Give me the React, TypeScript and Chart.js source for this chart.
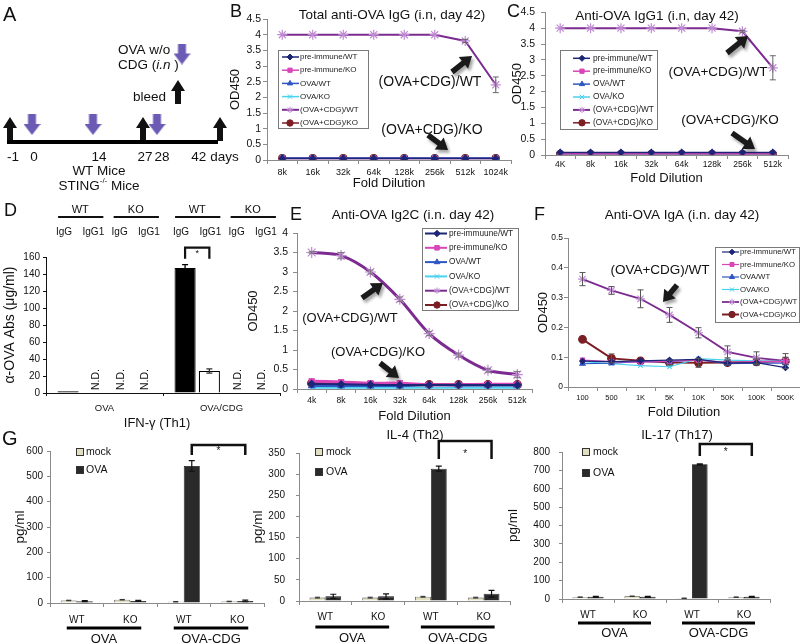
import React, { useEffect, useRef } from 'react';
import { Chart, registerables } from 'chart.js';
import { drawPoint } from 'chart.js/helpers';

Chart.register(...registerables);

const FONT = '"Liberation Sans", Arial, Helvetica, sans-serif';
Chart.defaults.font.family = FONT;
Chart.defaults.color = '#111';

// ================= DATA =================
// A: immunization schedule
const scheduleLabels = ['-1', '0', '14', '27', '28', '42 days'];
const scheduleEvent = ['bleed', 'ova', 'ova', 'bleed', 'ova', 'bleed'];

// shared series
const seriesLabels = ['pre-immune/WT', 'pre-immune/KO', 'OVA/WT', 'OVA/KO', '(OVA+CDG)/WT', '(OVA+CDG)/KO'];
const seriesLabelsE = ['pre-immuune/WT', 'pre-immune/KO', 'OVA/WT', 'OVA/KO', '(OVA+CDG)/WT', '(OVA+CDG)/KO'];

// B: Total anti-OVA IgG
const bDilution = ['8k', '16k', '32k', '64k', '128k', '256k', '512k', '1024k'];
const bPreWT = [0.05, 0.05, 0.05, 0.05, 0.05, 0.05, 0.05, 0.05];
const bPreKO = [0.05, 0.05, 0.05, 0.05, 0.05, 0.05, 0.05, 0.05];
const bOvaWT = [0.06, 0.06, 0.06, 0.06, 0.06, 0.06, 0.06, 0.06];
const bOvaKO = [0.06, 0.06, 0.06, 0.06, 0.06, 0.06, 0.06, 0.06];
const bCdgWT = [4, 4, 4, 4, 4, 4, 3.8, 2.4];
const bCdgWTErr = [0, 0, 0, 0, 0, 0, 0.05, 0.25];
const bCdgKO = [0.06, 0.06, 0.06, 0.06, 0.06, 0.06, 0.06, 0.06];

// C: Anti-OVA IgG1
const cDilution = ['4K', '8k', '16k', '32k', '64k', '128k', '256k', '512k'];
const cPreWT = [0.08, 0.08, 0.08, 0.08, 0.08, 0.08, 0.08, 0.08];
const cPreKO = [0.04, 0.04, 0.04, 0.04, 0.04, 0.04, 0.04, 0.04];
const cOvaWT = [0.07, 0.07, 0.07, 0.07, 0.07, 0.07, 0.07, 0.07];
const cOvaKO = [0.04, 0.04, 0.04, 0.04, 0.04, 0.04, 0.04, 0.04];
const cCdgWT = [4, 4, 4, 4, 4, 4, 3.9, 2.75];
const cCdgWTErr = [0, 0, 0, 0, 0, 0, 0.03, 0.38];
const cCdgKO = [0.03, 0.03, 0.03, 0.03, 0.03, 0.03, 0.03, 0.03];

// D: alpha-OVA Abs (ug/ml)
const dGroups = ['OVA', 'OVA/CDG'];
const dWTIgG = [2, 147];
const dWTIgGErr = [0, 4];
const dWTIgG1 = [null, 26];
const dWTIgG1Err = [0, 2.5];
const dKOIgG = [null, null];
const dKOIgG1 = [null, null];

// E: Anti-OVA Ig2C
const eDilution = ['4k', '8k', '16k', '32k', '64k', '128k', '256k', '512k'];
const ePreWT = [0.13, 0.12, 0.11, 0.1, 0.1, 0.1, 0.1, 0.1];
const ePreKO = [0.2, 0.18, 0.15, 0.15, 0.11, 0.11, 0.12, 0.12];
const eOvaWT = [0.08, 0.08, 0.08, 0.08, 0.1, 0.09, 0.09, 0.09];
const eOvaKO = [0.03, 0.03, 0.03, 0.03, 0.03, 0.03, 0.03, 0.03];
const eCdgWT = [3.5, 3.42, 3.0, 2.3, 1.42, 0.87, 0.48, 0.37];
const eCdgWTErr = [0.02, 0.08, 0.05, 0.06, 0.05, 0.05, 0.05, 0.08];
const eCdgKO = [0.15, 0.13, 0.11, 0.09, 0.11, 0.11, 0.11, 0.11];

// F: Anti-OVA IgA
const fDilution = ['100', '500', '1K', '5K', '10K', '50K', '100K', '500K'];
const fPreWT = [0.087, 0.085, 0.088, 0.09, 0.093, 0.08, 0.082, 0.065];
const fPreKO = [0.09, 0.085, 0.083, 0.087, 0.09, 0.083, 0.086, 0.085];
const fOvaWT = [0.078, 0.08, 0.085, 0.085, 0.092, 0.078, 0.08, 0.08];
const fOvaKO = [0.085, 0.078, 0.072, 0.068, 0.095, 0.09, 0.088, 0.086];
const fCdgWT = [0.362, 0.324, 0.296, 0.242, 0.182, 0.118, 0.098, 0.088];
const fCdgWTErr = [0.022, 0.013, 0.03, 0.025, 0.017, 0.02, 0.02, 0.012];
const fCdgKO = [0.16, 0.096, 0.088, 0.082, 0.081, 0.082, 0.084, 0.087];
const fCdgKOErr = [0, 0.015, 0, 0.008, 0.015, 0.008, 0.01, 0.025];

// G: cytokines (pg/ml)
const gStrains = ['WT', 'KO', 'WT', 'KO'];
const gGroups = ['OVA', 'OVA-CDG'];
const gIfnMock = [10, 13, 5, 6];
const gIfnOva = [7, 8, 541, 8];
const gIfnOvaErr = [2, 2, 21, 3];
const gIl4Mock = [8, 8, 10, 8];
const gIl4Ova = [11, 11, 313, 17];
const gIl4OvaErr = [5, 6, 6, 8];
const gIl17Mock = [10, 15, 4, 10];
const gIl17Ova = [12, 12, 733, 12];
const gIl17OvaErr = [3, 3, 3, 3];
const gMockErr = [1, 1, 1, 1];

// ================= STYLE =================
const LINE_COLORS = ['#1C2677', '#D946B8', '#2E57C4', '#4AD2EE', '#7C2C90', '#7B1F25'];
const POINT_FILL = ['#1C2677', '#D946B8', '#2E57C4', '#4AD2EE', '#C79AD9', '#7B1F25'];
const POINT_EDGE = ['#1C2677', '#D946B8', '#2E57C4', '#4AD2EE', '#C08AD4', '#7B1F25'];
const POINT_STYLES = ['rectRot', 'rect', 'triangle', 'crossRot', 'star', 'circle'];
const AXIS = '#8a8a8a';

type Box = { x: number; y: number; w: number; h: number };
type Area = { l: number; t: number; r: number; b: number };

function frame(box: Box, area: Area, yTitleX: number | null, ySize: number, xTitleY: number | null, xSize: number) {
  const ylh = ySize * 1.2;
  const xlh = xSize * 1.2;
  const padLeft = yTitleX == null ? 0 : Math.max(0, yTitleX - ylh / 2 - box.x);
  const padBottom = xTitleY == null ? 0 : Math.max(0, box.y + box.h - (xTitleY + xlh / 2));
  return {
    padding: { left: padLeft, top: area.t - box.y, right: box.x + box.w - area.r, bottom: padBottom },
    yW: area.l - box.x - padLeft,
    xH: box.y + box.h - padBottom - area.b,
  };
}

function onPage(ctx: any, box: Box, fn: () => void) {
  ctx.save();
  ctx.translate(-box.x, -box.y);
  fn();
  ctx.restore();
}

function text(ctx: any, s: string, x: number, y: number, size: number, align = 'center', style = '', color = '#111') {
  ctx.save();
  ctx.font = `${style} ${size}px ${FONT}`;
  ctx.fillStyle = color;
  ctx.textAlign = align;
  ctx.textBaseline = 'middle';
  ctx.fillText(s, x, y);
  ctx.restore();
}

function fatArrow(ctx: any, x1: number, y1: number, x2: number, y2: number, shaft = 5.5, headW = 15, headL = 11) {
  const a = Math.atan2(y2 - y1, x2 - x1);
  const len = Math.hypot(x2 - x1, y2 - y1);
  ctx.save();
  ctx.translate(x1, y1);
  ctx.rotate(a);
  ctx.shadowColor = 'rgba(0,0,0,0.35)';
  ctx.shadowBlur = 3;
  ctx.shadowOffsetX = 2;
  ctx.shadowOffsetY = 3;
  ctx.fillStyle = '#1a1a1a';
  ctx.beginPath();
  ctx.moveTo(0, -shaft / 2);
  ctx.lineTo(len - headL, -shaft / 2);
  ctx.lineTo(len - headL, -headW / 2);
  ctx.lineTo(len, 0);
  ctx.lineTo(len - headL, headW / 2);
  ctx.lineTo(len - headL, shaft / 2);
  ctx.lineTo(0, shaft / 2);
  ctx.closePath();
  ctx.fill();
  ctx.restore();
}

function errorBars(chart: any, di: number, errs: number[], color: string, cap: number, lw: number) {
  const meta = chart.getDatasetMeta(di);
  const ys = chart.scales.y;
  const data = chart.data.datasets[di].data;
  const ctx = chart.ctx;
  ctx.save();
  ctx.strokeStyle = color;
  ctx.lineWidth = lw;
  meta.data.forEach((el: any, i: number) => {
    const e = errs[i];
    const v = data[i];
    if (!e || v == null) return;
    const yt = ys.getPixelForValue(v + e);
    const yb = ys.getPixelForValue(v - e);
    ctx.beginPath();
    ctx.moveTo(el.x, yt); ctx.lineTo(el.x, yb);
    ctx.moveTo(el.x - cap, yt); ctx.lineTo(el.x + cap, yt);
    ctx.moveTo(el.x - cap, yb); ctx.lineTo(el.x + cap, yb);
    ctx.stroke();
  });
  ctx.restore();
}

function seriesLegend(ctx: any, chart: any, L: any) {
  ctx.save();
  ctx.fillStyle = '#fff';
  ctx.fillRect(L.x, L.y, L.w, L.h);
  ctx.strokeStyle = '#7a7a7a';
  ctx.lineWidth = 1;
  ctx.strokeRect(L.x + 0.5, L.y + 0.5, L.w, L.h);
  chart.data.datasets.forEach((ds: any, i: number) => {
    const cy = L.first + i * L.row;
    ctx.strokeStyle = ds.borderColor;
    ctx.lineWidth = Math.min(ds.borderWidth, 2);
    ctx.beginPath(); ctx.moveTo(L.l0, cy); ctx.lineTo(L.l1, cy); ctx.stroke();
    ctx.fillStyle = ds.pointBackgroundColor;
    ctx.strokeStyle = ds.pointBorderColor;
    ctx.lineWidth = 1;
    drawPoint(ctx, { pointStyle: ds.pointStyle, rotation: 0, radius: Math.min(ds.pointRadius, 3.2), borderWidth: 1 }, L.mx, cy);
    ctx.fillStyle = '#222';
    ctx.font = `${L.size}px ${FONT}`;
    ctx.textAlign = 'left';
    ctx.textBaseline = 'middle';
    ctx.fillText(ds.label, L.tx, cy);
  });
  ctx.restore();
}

function seriesSets(labels: string[], values: number[][], widths: number[], radii: number[], tension = 0) {
  return values.map((data, i) => ({
    label: labels[i],
    data,
    borderColor: LINE_COLORS[i],
    backgroundColor: POINT_FILL[i],
    borderWidth: widths[i],
    pointStyle: POINT_STYLES[i],
    pointRadius: radii[i],
    pointBackgroundColor: POINT_FILL[i],
    pointBorderColor: POINT_EDGE[i],
    pointBorderWidth: 1.2,
    tension,
    fill: false,
  }));
}

function lineChart(o: any) {
  const fr = frame(o.box, o.area, o.yTitleX, 13, o.xTitleY, 13);
  return {
    type: 'line',
    data: { labels: o.labels, datasets: o.datasets },
    options: {
      responsive: false,
      animation: false,
      events: [],
      layout: { padding: fr.padding, autoPadding: false },
      plugins: { legend: { display: false }, tooltip: { enabled: false }, title: { display: false } },
      scales: {
        x: {
          type: 'category',
          offset: true,
          grid: { drawOnChartArea: false, drawTicks: true, tickLength: 4, offset: true, color: AXIS },
          border: { display: true, color: AXIS, width: 1 },
          ticks: { font: { size: o.xTick }, color: '#111', padding: o.xPad, maxRotation: 0, autoSkip: false },
          title: { display: true, text: 'Fold Dilution', font: { size: 13 }, padding: 0, color: '#111' },
          afterFit: (s: any) => { s.height = fr.xH; },
        },
        y: {
          type: 'linear',
          min: 0,
          max: o.yMax,
          grid: { drawOnChartArea: false, drawTicks: true, tickLength: 4, color: AXIS },
          border: { display: true, color: AXIS, width: 1 },
          ticks: {
            stepSize: o.yStep,
            font: { size: o.yTick },
            color: '#111',
            padding: o.yPad,
            callback: (v: any) => String(Math.round(Number(v) * 100) / 100),
          },
          title: { display: true, text: 'OD450', font: { size: 13 }, padding: 0, color: '#111' },
          afterFit: (s: any) => { s.width = fr.yW; },
        },
      },
    },
    plugins: [{ id: 'deco', afterDraw: (chart: any) => o.draw(chart, chart.ctx) }],
  };
}

// ================= PANEL A =================
const boxA: Box = { x: 0, y: 0, w: 240, h: 200 };
const schedulePos = [2, 6.4, 18.6, 28.6, 31.4, 44];
const scheduleLabelShift = [0.6, 0.4, 1.2, 0.4, 1, -1];

function arrowImg(color: string, w: number, h: number, shaft: number, head: number, dir: string) {
  const c = document.createElement('canvas');
  c.width = w; c.height = h;
  const g = c.getContext('2d') as CanvasRenderingContext2D;
  g.fillStyle = color;
  g.beginPath();
  const s1 = w / 2 - shaft / 2, s2 = w / 2 + shaft / 2;
  if (dir === 'up') {
    g.moveTo(w / 2, 0); g.lineTo(w, head); g.lineTo(s2, head); g.lineTo(s2, h);
    g.lineTo(s1, h); g.lineTo(s1, head); g.lineTo(0, head);
  } else {
    g.moveTo(w / 2, h); g.lineTo(w, h - head); g.lineTo(s2, h - head); g.lineTo(s2, 0);
    g.lineTo(s1, 0); g.lineTo(s1, h - head); g.lineTo(0, h - head);
  }
  g.closePath();
  g.fill();
  return c;
}

function configA() {
  const up = arrowImg('#111', 14, 24, 6, 11, 'up');
  const down = arrowImg('#6C5BB5', 17, 21, 8, 11, 'down');
  const bleedPts: any[] = [];
  const ovaPts: any[] = [];
  scheduleEvent.forEach((e, i) => {
    if (e === 'bleed') bleedPts.push({ x: schedulePos[i], y: 25.8 });
    else ovaPts.push({ x: schedulePos[i], y: 24.9 });
  });
  return {
    type: 'scatter',
    data: {
      datasets: [
        { data: [{ x: 1.4, y: 28.4 }, { x: 43.6, y: 28.4 }], showLine: true, borderColor: '#000', borderWidth: 4, pointRadius: 0 },
        { data: bleedPts, pointStyle: up, pointRadius: 10 },
        { data: ovaPts, pointStyle: down, pointRadius: 10 },
        { data: [{ x: 36.4, y: 10.8 }], pointStyle: down, pointRadius: 10 },
        { data: [{ x: 35.6, y: 18.4 }], pointStyle: up, pointRadius: 10 },
      ],
    },
    options: {
      responsive: false,
      animation: false,
      events: [],
      layout: { padding: 0, autoPadding: false },
      plugins: { legend: { display: false }, tooltip: { enabled: false } },
      scales: {
        x: { type: 'linear', display: false, min: 0, max: 48 },
        y: { type: 'linear', display: false, min: 0, max: 40, reverse: true },
      },
    },
    plugins: [{
      id: 'schedText',
      afterDraw: (chart: any) => {
        const ctx = chart.ctx;
        const xs = chart.scales.x;
        const ysc = chart.scales.y;
        scheduleLabels.forEach((s, i) => {
          text(ctx, s, xs.getPixelForValue(schedulePos[i] + scheduleLabelShift[i]), ysc.getPixelForValue(31.4), 13.5);
        });
        text(ctx, 'WT Mice', 99, 171, 13.5);
        ctx.save();
        ctx.font = `13.5px ${FONT}`;
        const w1 = ctx.measureText('STING').width;
        const w3 = ctx.measureText(' Mice').width;
        ctx.font = `8px ${FONT}`;
        const w2 = ctx.measureText('-/-').width;
        const x0 = 99 - (w1 + w2 + w3) / 2;
        ctx.restore();
        text(ctx, 'STING', x0, 186, 13.5, 'left');
        text(ctx, '-/-', x0 + w1, 181, 8, 'left');
        text(ctx, ' Mice', x0 + w1 + w2, 186, 13.5, 'left');
        text(ctx, 'OVA w/o', 118, 50, 13.5, 'left');
        ctx.save();
        ctx.font = `13.5px ${FONT}`;
        const c1 = ctx.measureText('CDG (').width;
        ctx.font = `italic 13.5px ${FONT}`;
        const c2 = ctx.measureText('i.n').width;
        ctx.restore();
        text(ctx, 'CDG (', 118, 65, 13.5, 'left');
        text(ctx, 'i.n', 118 + c1, 65, 13.5, 'left', 'italic');
        text(ctx, ' )', 118 + c1 + c2, 65, 13.5, 'left');
        text(ctx, 'bleed', 133, 97, 13.5, 'left');
      },
    }],
  };
}

// ================= PANEL B =================
const boxB: Box = { x: 226, y: 0, w: 290, h: 200 };
function configB() {
  return lineChart({
    box: boxB, area: { l: 267, t: 19, r: 511, b: 160 },
    labels: bDilution,
    datasets: seriesSets(seriesLabels, [bPreWT, bPreKO, bOvaWT, bOvaKO, bCdgWT, bCdgKO], [1.5, 1.5, 1.5, 1.5, 2, 1.5], [3, 3, 3, 3.5, 5, 3.5]),
    yMax: 4.5, yStep: 0.5, yTitleX: 235, xTitleY: 183, yTick: 10.5, xTick: 9, yPad: 2, xPad: 3,
    draw: (chart: any, ctx: any) => {
      errorBars(chart, 4, bCdgWTErr, '#666', 3, 1);
      onPage(ctx, boxB, () => {
        text(ctx, 'Total anti-OVA IgG (i.n, day 42)', 392, 15, 13.5);
        seriesLegend(ctx, chart, { x: 278, y: 50, w: 90, h: 78, first: 57, row: 13.2, l0: 282, l1: 299, mx: 290, tx: 300, size: 8 });
        text(ctx, '(OVA+CDG)/WT', 430, 82, 14);
        fatArrow(ctx, 452, 72, 472, 56);
        text(ctx, '(OVA+CDG)/KO', 432, 130, 14);
        fatArrow(ctx, 428, 135, 448, 150);
      });
    },
  });
}

// ================= PANEL C =================
const boxC: Box = { x: 505, y: 0, w: 295, h: 195 };
function configC() {
  return lineChart({
    box: boxC, area: { l: 545, t: 12, r: 788, b: 155 },
    labels: cDilution,
    datasets: seriesSets(seriesLabels, [cPreWT, cPreKO, cOvaWT, cOvaKO, cCdgWT, cCdgKO], [1.5, 1.5, 1.5, 1.5, 2, 1.5], [3, 3, 3, 3.5, 5, 3.5]),
    yMax: 4.5, yStep: 0.5, yTitleX: 517, xTitleY: 178, yTick: 10.5, xTick: 8.5, yPad: 6, xPad: 1,
    draw: (chart: any, ctx: any) => {
      errorBars(chart, 4, cCdgWTErr, '#666', 3, 1);
      onPage(ctx, boxC, () => {
        text(ctx, 'Anti-OVA IgG1 (i.n, day 42)', 657, 16, 13.5);
        seriesLegend(ctx, chart, { x: 560, y: 50, w: 97, h: 79, first: 58.3, row: 12.9, l0: 573, l1: 590, mx: 582, tx: 593, size: 8.3 });
        text(ctx, '(OVA+CDG)/WT', 718, 72, 13.5);
        fatArrow(ctx, 727, 53, 748, 36);
        text(ctx, '(OVA+CDG)/KO', 730, 120, 13.5);
        fatArrow(ctx, 732, 133, 755, 149);
      });
    },
  });
}

// ================= PANEL D =================
const boxD: Box = { x: 0, y: 200, w: 290, h: 220 };
function configD() {
  const area = { l: 46, t: 257, r: 280, b: 393 };
  const fr = frame(boxD, area, 10, 14, null, 0);
  const bar = { categoryPercentage: 0.83, barPercentage: 0.87 };
  return {
    type: 'bar',
    data: {
      labels: dGroups,
      datasets: [
        { label: 'WT IgG', data: dWTIgG, backgroundColor: '#000', borderColor: '#000', borderWidth: 1, ...bar },
        { label: 'WT IgG1', data: dWTIgG1, backgroundColor: '#fff', borderColor: '#000', borderWidth: 1.2, ...bar },
        { label: 'KO IgG', data: dKOIgG, backgroundColor: '#000', borderColor: '#000', borderWidth: 1, ...bar },
        { label: 'KO IgG1', data: dKOIgG1, backgroundColor: '#fff', borderColor: '#000', borderWidth: 1.2, ...bar },
      ],
    },
    options: {
      responsive: false,
      animation: false,
      events: [],
      layout: { padding: fr.padding, autoPadding: false },
      plugins: { legend: { display: false }, tooltip: { enabled: false } },
      scales: {
        x: {
          type: 'category',
          grid: { drawOnChartArea: false, drawTicks: true, tickLength: 3, offset: true, color: '#111' },
          border: { display: true, color: '#111', width: 1 },
          ticks: { font: { size: 9.5 }, color: '#111', padding: 6.5, maxRotation: 0 },
          afterFit: (s: any) => { s.height = fr.xH; },
        },
        y: {
          min: 0, max: 160,
          grid: { drawOnChartArea: false, drawTicks: true, tickLength: 3, color: '#111' },
          border: { display: true, color: '#111', width: 1 },
          ticks: { stepSize: 20, font: { size: 10 }, color: '#111', padding: 3 },
          title: { display: true, text: 'α-OVA Abs (μg/ml)', font: { size: 14 }, padding: 0, color: '#111' },
          afterFit: (s: any) => { s.width = fr.yW; },
        },
      },
    },
    plugins: [{
      id: 'dDeco',
      afterDraw: (chart: any) => {
        const ctx = chart.ctx;
        const ys = chart.scales.y;
        const ca = chart.chartArea;
        errorBars(chart, 0, dWTIgGErr, '#000', 3, 1.3);
        errorBars(chart, 1, dWTIgG1Err, '#333', 3, 1.3);
        chart.data.datasets.forEach((ds: any, di: number) => {
          const meta = chart.getDatasetMeta(di);
          ds.data.forEach((v: any, i: number) => {
            if (v != null) return;
            const el = meta.data[i];
            ctx.save();
            ctx.translate(el.x + 4, ca.bottom - 3);
            ctx.rotate(-Math.PI / 2);
            ctx.font = `10.5px ${FONT}`;
            ctx.fillStyle = '#111';
            ctx.textAlign = 'left';
            ctx.textBaseline = 'middle';
            ctx.fillText('N.D.', 0, 0);
            ctx.restore();
          });
        });
        dGroups.forEach((_g, gi) => {
          [0, 2].forEach((d0) => {
            const shift = d0 === 2 ? 7 : 0;
            const a = chart.getDatasetMeta(d0).data[gi].x + shift;
            const b = chart.getDatasetMeta(d0 + 1).data[gi].x + shift;
            const lab0 = chart.data.datasets[d0].label.split(' ');
            const lab1 = chart.data.datasets[d0 + 1].label.split(' ');
            text(ctx, lab0[0], (a + b) / 2, 10, 11);
            ctx.save();
            ctx.strokeStyle = '#111';
            ctx.lineWidth = 2.2;
            ctx.beginPath(); ctx.moveTo(a - 10, 17); ctx.lineTo(b + 11, 17); ctx.stroke();
            ctx.restore();
            text(ctx, lab0[1], a - 4, 32, 10);
            text(ctx, lab1[1], b + 1, 32, 10);
          });
        });
        const x1 = chart.getDatasetMeta(0).data[1].x;
        const x2 = chart.getDatasetMeta(1).data[1].x;
        const yt = ys.getPixelForValue(171);
        const yb = ys.getPixelForValue(158);
        ctx.save();
        ctx.strokeStyle = '#111';
        ctx.lineWidth = 2.2;
        ctx.beginPath();
        ctx.moveTo(x1, yb); ctx.lineTo(x1, yt); ctx.lineTo(x2, yt); ctx.lineTo(x2, yb);
        ctx.stroke();
        ctx.restore();
        text(ctx, '*', (x1 + x2) / 2, yt + 6, 9);
      },
    }],
  };
}

// ================= PANEL E =================
const boxE: Box = { x: 238, y: 200, w: 297, h: 225 };
function configE() {
  return lineChart({
    box: boxE, area: { l: 297, t: 233, r: 532, b: 389 },
    labels: eDilution,
    datasets: seriesSets(seriesLabelsE, [ePreWT, ePreKO, eOvaWT, eOvaKO, eCdgWT, eCdgKO], [2, 3, 2, 2, 3, 3], [3.5, 3.5, 3.5, 3.5, 5.5, 4], 0.3),
    yMax: 4, yStep: 0.5, yTitleX: 253, xTitleY: 416, yTick: 10.5, xTick: 8.5, yPad: 5, xPad: 3,
    draw: (chart: any, ctx: any) => {
      errorBars(chart, 4, eCdgWTErr, '#777', 3, 1);
      onPage(ctx, boxE, () => {
        text(ctx, 'Anti-OVA Ig2C (i.n. day 42)', 413, 215, 13.5);
        seriesLegend(ctx, chart, { x: 422, y: 228, w: 96, h: 82, first: 233.5, row: 14.3, l0: 425, l1: 447, mx: 437, tx: 449, size: 8.3 });
        text(ctx, '(OVA+CDG)/WT', 350, 318, 13);
        fatArrow(ctx, 362, 298, 383, 283);
        text(ctx, '(OVA+CDG)/KO', 378, 352, 13);
        fatArrow(ctx, 380, 363, 399, 378);
      });
    },
  });
}

// ================= PANEL F =================
const boxF: Box = { x: 528, y: 200, w: 272, h: 225 };
function configF() {
  return lineChart({
    box: boxF, area: { l: 568, t: 238, r: 800, b: 387 },
    labels: fDilution,
    datasets: seriesSets(seriesLabels, [fPreWT, fPreKO, fOvaWT, fOvaKO, fCdgWT, fCdgKO], [1.2, 1.2, 1.2, 1.2, 1.8, 2], [2.8, 2.8, 3, 3, 4.5, 3.8]),
    yMax: 0.5, yStep: 0.1, yTitleX: 543, xTitleY: 412, yTick: 8.5, xTick: 7.5, yPad: 1, xPad: 2,
    draw: (chart: any, ctx: any) => {
      errorBars(chart, 4, fCdgWTErr, '#555', 3, 1);
      errorBars(chart, 5, fCdgKOErr, '#555', 3, 1);
      onPage(ctx, boxF, () => {
        text(ctx, 'Anti-OVA IgA (i.n. day 42)', 682, 215, 13.5);
        seriesLegend(ctx, chart, { x: 715, y: 247, w: 84, h: 75, first: 252, row: 12.5, l0: 722, l1: 739, mx: 732, tx: 740, size: 7.8 });
        text(ctx, '(OVA+CDG)/WT', 660, 270, 13.5);
        fatArrow(ctx, 677, 285, 663, 302);
      });
    },
  });
}

// ================= PANEL G =================
function configG(o: any) {
  const fr = frame(o.box, o.area, o.yTitleX, 13.5, null, 0);
  const bar = { categoryPercentage: 0.6, barPercentage: 1 };
  return {
    type: 'bar',
    data: {
      labels: gStrains,
      datasets: [
        { label: 'mock', data: o.mock, backgroundColor: '#E2DEC0', borderColor: '#444', borderWidth: 0.8, ...bar },
        { label: 'OVA', data: o.ova, backgroundColor: '#2A2A2A', borderColor: '#111', borderWidth: 0.8, ...bar },
      ],
    },
    options: {
      responsive: false,
      animation: false,
      events: [],
      layout: { padding: fr.padding, autoPadding: false },
      plugins: { legend: { display: false }, tooltip: { enabled: false } },
      scales: {
        x: {
          type: 'category',
          grid: { drawOnChartArea: false, drawTicks: true, tickLength: 4, offset: true, color: AXIS },
          border: { display: true, color: AXIS, width: 1 },
          ticks: { font: { size: 10 }, color: '#111', padding: o.xPad, maxRotation: 0 },
          afterFit: (s: any) => { s.height = fr.xH; },
        },
        y: {
          min: 0, max: o.yMax,
          grid: { drawOnChartArea: false, drawTicks: true, tickLength: 3, color: AXIS },
          border: { display: true, color: AXIS, width: 1 },
          ticks: { stepSize: o.yStep, font: { size: 10 }, color: '#111', padding: o.yPad },
          title: { display: true, text: 'pg/ml', font: { size: 13.5 }, padding: 0, color: '#111' },
          afterFit: (s: any) => { s.width = fr.yW; },
        },
      },
    },
    plugins: [{
      id: 'gDeco',
      afterDraw: (chart: any) => {
        const ctx = chart.ctx;
        const box = o.box;
        errorBars(chart, 0, gMockErr, '#333', 2.5, 1);
        errorBars(chart, 1, o.ovaErr, '#111', 3, 1.2);
        const m1 = chart.getDatasetMeta(1);
        const x1 = m1.data[2].x;
        const x2 = m1.data[3].x;
        ctx.save();
        ctx.strokeStyle = '#111';
        ctx.lineWidth = 2.5;
        ctx.beginPath();
        ctx.moveTo(x1, o.bracket[1] - box.y);
        ctx.lineTo(x1, o.bracket[0] - box.y);
        ctx.lineTo(x2, o.bracket[0] - box.y);
        ctx.lineTo(x2, o.bracket[1] - box.y);
        ctx.stroke();
        ctx.restore();
        text(ctx, '*', (x1 + x2) / 2, o.bracket[2] - box.y, 10);
        const xs = chart.scales.x;
        gGroups.forEach((g, gi) => {
          const a = xs.getPixelForValue(gi * 2) - 10;
          const b = xs.getPixelForValue(gi * 2 + 1) + 11;
          ctx.save();
          ctx.strokeStyle = '#000';
          ctx.lineWidth = 3;
          ctx.beginPath(); ctx.moveTo(a, o.under[0] - box.y); ctx.lineTo(b, o.under[0] - box.y); ctx.stroke();
          ctx.restore();
          text(ctx, g, (a + b) / 2, o.under[1] - box.y, 13);
        });
        onPage(ctx, box, () => {
          text(ctx, o.title, o.titleXY[0], o.titleXY[1], 13);
          const L = o.legend;
          chart.data.datasets.forEach((ds: any, i: number) => {
            const cy = i === 0 ? L.y1 : L.y2;
            ctx.save();
            ctx.fillStyle = ds.backgroundColor;
            ctx.strokeStyle = '#333';
            ctx.lineWidth = 1;
            ctx.fillRect(L.sx - 3.5, cy - 3.5, 7, 7);
            ctx.strokeRect(L.sx - 3.5, cy - 3.5, 7, 7);
            ctx.restore();
            text(ctx, ds.label, L.tx, cy, 10.5, 'left');
          });
        });
      },
    }],
  };
}

const boxG1: Box = { x: 0, y: 415, w: 268, h: 229 };
const boxG2: Box = { x: 248, y: 415, w: 270, h: 229 };
const boxG3: Box = { x: 500, y: 415, w: 300, h: 229 };

const configG1 = () => configG({
  box: boxG1, area: { l: 50, t: 451, r: 264, b: 603 }, mock: gIfnMock, ova: gIfnOva, ovaErr: gIfnOvaErr,
  yMax: 600, yStep: 100, yTitleX: 20, title: 'IFN-γ (Th1)', titleXY: [157, 423],
  legend: { sx: 80, y1: 452, y2: 470, tx: 86 }, bracket: [445, 455, 451], under: [628, 639], yPad: 4, xPad: 7,
});
const configG2 = () => configG({
  box: boxG2, area: { l: 299, t: 453, r: 510, b: 601 }, mock: gIl4Mock, ova: gIl4Ova, ovaErr: gIl4OvaErr,
  yMax: 350, yStep: 50, yTitleX: 258, title: 'IL-4 (Th2)', titleXY: [415, 435],
  legend: { sx: 319, y1: 452, y2: 472, tx: 326 }, bracket: [441, 459, 454], under: [627, 638], yPad: 11, xPad: 6,
});
const configG3 = () => configG({
  box: boxG3, area: { l: 562, t: 452, r: 770, b: 599 }, mock: gIl17Mock, ova: gIl17Ova, ovaErr: gIl17OvaErr,
  yMax: 800, yStep: 100, yTitleX: 513, title: 'IL-17 (Th17)', titleXY: [677, 435],
  legend: { sx: 586, y1: 452, y2: 473, tx: 593 }, bracket: [444, 456, 452], under: [623, 633], yPad: 9, xPad: 6,
});

// ================= COMPONENTS =================
function Panel({ box, config }: { box: Box; config: () => any }) {
  const ref = useRef<HTMLCanvasElement | null>(null);
  useEffect(() => {
    const chart = new Chart(ref.current as HTMLCanvasElement, config());
    return () => chart.destroy();
  }, []);
  return (
    <canvas
      ref={ref}
      width={box.w}
      height={box.h}
      style={{ position: 'absolute', left: box.x, top: box.y, width: box.w, height: box.h }}
    />
  );
}

const letters: [string, number, number, number][] = [
  ['A', 3, 4, 20], ['B', 230, 2, 18], ['C', 507, 2, 18], ['D', 4, 201, 18],
  ['E', 290, 205, 18], ['F', 534, 205, 18], ['G', 2, 428, 20],
];

export default function App() {
  return (
    <div style={{ position: 'absolute', left: 0, top: 0, width: 800, height: 644, background: '#fff', overflow: 'hidden' }}>
      <Panel box={boxA} config={configA} />
      <Panel box={boxB} config={configB} />
      <Panel box={boxC} config={configC} />
      <Panel box={boxD} config={configD} />
      <Panel box={boxE} config={configE} />
      <Panel box={boxF} config={configF} />
      <Panel box={boxG1} config={configG1} />
      <Panel box={boxG2} config={configG2} />
      <Panel box={boxG3} config={configG3} />
      {letters.map(([s, x, y, size]) => (
        <div key={s} style={{ position: 'absolute', left: x, top: y, fontFamily: FONT, fontSize: size, lineHeight: 1, color: '#111' }}>{s}</div>
      ))}
    </div>
  );
}
